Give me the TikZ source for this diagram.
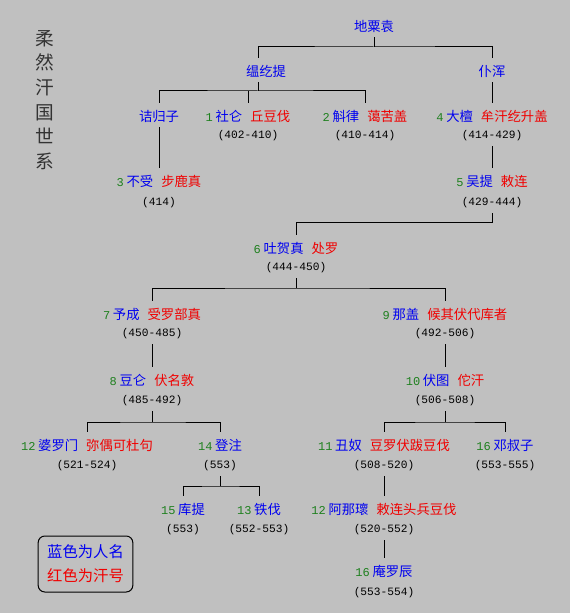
\documentclass[tikz,border=0pt]{standalone}
\usepackage{fontspec}
\setmainfont{Noto Sans CJK SC}
\newfontfamily\yearfnt{Liberation Mono}
\usepackage{xcolor}
\usepackage{tikz}
\usetikzlibrary{positioning}
\definecolor{paper}{HTML}{C0C0C0}
\definecolor{nameblue}{HTML}{0000F0}
\definecolor{titlered}{HTML}{F00000}
\definecolor{numgreen}{HTML}{1E801E}
\definecolor{ink}{HTML}{000000}
\newcommand\khan[3]{{\yearfnt\fontsize{9}{9}\selectfont\color{numgreen}#1}\hspace{2pt}\textcolor{nameblue}{#2}\ifx\relax#3\relax\else\hspace{6pt}\textcolor{titlered}{#3}\fi}
\tikzset{
  pn/.style={inner sep=0, text height=13.5pt, text depth=4.1pt, font=\fontsize{10}{12}\selectfont},
  bn/.style={pn, text=nameblue},
  yr/.style={inner sep=0, text height=10.7pt, text depth=5.1pt, font=\yearfnt\fontsize{8.4}{10}\selectfont, text=ink},
  key/.style={draw=ink, line width=0.75pt, rounded corners=5pt, minimum width=71pt, minimum height=42pt, align=center, font=\fontsize{11.5}{18}\selectfont},
}

\begin{document}
\begin{tikzpicture}[x=0.75pt, y=-0.75pt, line width=0.75pt]
\fill[paper] (0,0) rectangle (570,613);
\useasboundingbox (0,0) rectangle (570,613);
\node[text=ink!80, align=center, font=\fontsize{14}{18.5}\selectfont] (title) at (45,100) {柔\\然\\汗\\国\\世\\系};
\node[bn] (root) at (374,25) {地粟袁};
\node[bn] (wen) at (266,70) {缊纥提};
\node[bn] (pu) at (492,70) {仆浑};
\node[bn] (jie) at (159,115) {诘归子};
\node[pn] (n1) at (248,115) {\khan{1}{社仑}{丘豆伐}};
\node[yr] (d1) at (248,135) {(402-410)};
\node[pn] (n2) at (365,115) {\khan{2}{斛律}{蔼苦盖}};
\node[yr] (d2) at (365,135) {(410-414)};
\node[pn] (n4) at (492,115) {\khan{4}{大檀}{牟汗纥升盖}};
\node[yr] (d4) at (492,135) {(414-429)};
\node[pn] (n3) at (159,180) {\khan{3}{不受}{步鹿真}};
\node[yr] (d3) at (159,202) {(414)};
\node[pn] (n5) at (492,180) {\khan{5}{吴提}{敕连}};
\node[yr] (d5) at (492,202) {(429-444)};
\node[pn] (n6) at (296,247) {\khan{6}{吐贺真}{处罗}};
\node[yr] (d6) at (296,267) {(444-450)};
\node[pn] (n7) at (152,313) {\khan{7}{予成}{受罗部真}};
\node[yr] (d7) at (152,333) {(450-485)};
\node[pn] (n9) at (445,313) {\khan{9}{那盖}{候其伏代库者}};
\node[yr] (d9) at (445,333) {(492-506)};
\node[pn] (n8) at (152,379) {\khan{8}{豆仑}{伏名敦}};
\node[yr] (d8) at (152,400) {(485-492)};
\node[pn] (n10) at (445,379) {\khan{10}{伏图}{佗汗}};
\node[yr] (d10) at (445,400) {(506-508)};
\node[pn] (n12) at (87,444) {\khan{12}{婆罗门}{弥偶可杜句}};
\node[yr] (d12) at (87,465) {(521-524)};
\node[pn] (n14) at (220,444) {\khan{14}{登注}{}};
\node[yr] (d14) at (220,465) {(553)};
\node[pn] (n11) at (384,444) {\khan{11}{丑奴}{豆罗伏跋豆伐}};
\node[yr] (d11) at (384,465) {(508-520)};
\node[pn] (n16) at (505,444) {\khan{16}{邓叔子}{}};
\node[yr] (d16) at (505,465) {(553-555)};
\node[pn] (n15) at (183,508) {\khan{15}{库提}{}};
\node[yr] (d15) at (183,529) {(553)};
\node[pn] (n13) at (259,508) {\khan{13}{铁伐}{}};
\node[yr] (d13) at (259,529) {(552-553)};
\node[pn] (n12b) at (384,508) {\khan{12}{阿那瓌}{敕连头兵豆伐}};
\node[yr] (d12b) at (384,529) {(520-552)};
\node[pn] (n16b) at (384,570) {\khan{16}{庵罗辰}{}};
\node[yr] (d16b) at (384,592) {(553-554)};
\node[key] (legend) at (85.5,564) {\textcolor{nameblue}{蓝色为人名}\\\textcolor{titlered}{红色为汗号}};
\coordinate (b0) at (374,47);
\coordinate (b1) at (258,91);
\coordinate (b5) at (296,222);
\coordinate (b6) at (296,288);
\coordinate (b8) at (152,422);
\coordinate (b10) at (445,422);
\coordinate (b14) at (220,486);
\draw[ink] (root.south) -- (b0);
\draw[ink] (b1 |- wen.north) |- (b0) -| (pu.north);
\draw[ink] (b1 |- wen.south) -- (b1);
\draw[ink] (jie.north) |- (b1) -| (n2.north);
\draw[ink] (n1.north) -- (n1.north |- b1);
\draw[ink] (jie.south) -- (n3.north);
\draw[ink] (pu.south) -- (n4.north);
\draw[ink] (d4.south) -- (n5.north);
\draw[ink] (d5.south) |- (b5) -- (n6.north);
\draw[ink] (d6.south) -- (b6);
\draw[ink] (n7.north) |- (b6) -| (n9.north);
\draw[ink] (d7.south) -- (n8.north);
\draw[ink] (d9.south) -- (n10.north);
\draw[ink] (d8.south) -- (b8);
\draw[ink] (n12.north) |- (b8) -| (n14.north);
\draw[ink] (d10.south) -- (b10);
\draw[ink] (n11.north) |- (b10) -| (n16.north);
\draw[ink] (d14.south) -- (b14);
\draw[ink] (n15.north) |- (b14) -| (n13.north);
\draw[ink] (d11.south) -- (n12b.north);
\draw[ink] (d12b.south) -- (n16b.north);
\end{tikzpicture}
\end{document}
